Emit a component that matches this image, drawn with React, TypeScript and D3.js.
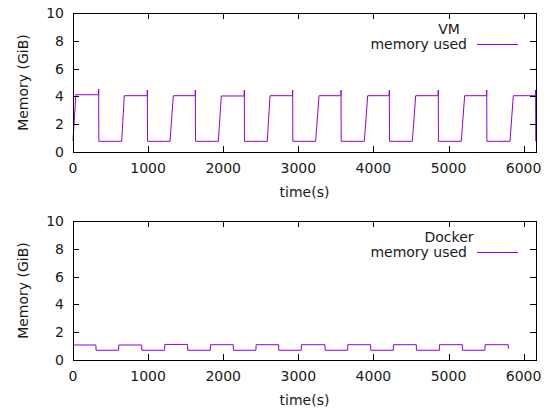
import React from "react";
import * as d3 from "d3";

const xTicks = [0, 1000, 2000, 3000, 4000, 5000, 6000];
const yTicks = [0, 2, 4, 6, 8, 10];

const vmTime = [0, 38, 340, 342, 344, 648, 683, 988, 990, 992, 1292, 1336, 1627, 1629, 1631, 1935, 1975, 2279, 2281, 2283, 2587, 2623, 2923, 2925, 2927, 3231, 3276, 3567, 3569, 3571, 3879, 3924, 4210, 4212, 4214, 4518, 4563, 4862, 4864, 4866, 5170, 5215, 5507, 5509, 5511, 5819, 5863, 6158, 6160, 6162];
const vmMem = [0.8, 4.12, 4.12, 4.53, 0.77, 0.77, 4.05, 4.05, 4.46, 0.77, 0.77, 4.05, 4.05, 4.46, 0.77, 0.77, 4.03, 4.03, 4.46, 0.77, 0.77, 4.05, 4.05, 4.46, 0.77, 0.77, 4.05, 4.05, 4.46, 0.77, 0.77, 4.05, 4.05, 4.46, 0.77, 0.77, 4.05, 4.05, 4.46, 0.77, 0.77, 4.05, 4.05, 4.46, 0.77, 0.77, 4.05, 4.05, 4.46, 0.77];

const dockerTime = [0, 305, 307, 607, 609, 914, 916, 1220, 1222, 1526, 1528, 1828, 1830, 2134, 2136, 2436, 2438, 2738, 2740, 3039, 3041, 3355, 3357, 3657, 3659, 3963, 3965, 4265, 4267, 4571, 4573, 4878, 4880, 5184, 5186, 5485, 5487, 5796, 5797];
const dockerMem = [1.08, 1.08, 0.7, 0.7, 1.08, 1.08, 0.7, 0.7, 1.12, 1.12, 0.7, 0.7, 1.1, 1.1, 0.7, 0.7, 1.1, 1.1, 0.7, 0.7, 1.1, 1.1, 0.7, 0.7, 1.1, 1.1, 0.7, 0.7, 1.1, 1.1, 0.7, 0.7, 1.1, 1.1, 0.7, 0.7, 1.1, 1.1, 0.8];

const FONT = "DejaVu Sans, sans-serif";
const FS = 14;
const COLOR = "#9400d3";
const TEXT = "#1a1a1a";

type PanelProps = { top: number; title: string; time: number[]; mem: number[] };

function Panel({ top, title, time, mem }: PanelProps) {
  const left = 73, right = 536, bottom = top + 139;
  const x = d3.scaleLinear().domain([0, 6165]).range([left, right]);
  const y = d3.scaleLinear().domain([0, 10]).range([bottom, top]);
  const pts = time.map((t, i) => [t, mem[i]] as [number, number]);
  const line = d3.line<[number, number]>().x((d) => x(d[0])).y((d) => y(d[1]));
  const tl = 6;
  return (
    <g>
      <path d={line(pts) || ""} fill="none" stroke={COLOR} strokeWidth={1} />
      {xTicks.map((t) => {
        const xp = Math.round(x(t)) + 0.5;
        return (
          <g key={"x" + t}>
            <line x1={xp} x2={xp} y1={bottom} y2={bottom - tl} stroke="#000" />
            <line x1={xp} x2={xp} y1={top} y2={top + tl} stroke="#000" />
            <text x={x(t)} y={bottom + 20.5} textAnchor="middle" fontFamily={FONT} fontSize={FS} fill={TEXT}>{t}</text>
          </g>
        );
      })}
      {yTicks.map((t) => {
        const yp = Math.round(y(t)) + 0.5;
        return (
          <g key={"y" + t}>
            <line x1={left} x2={left + tl} y1={yp} y2={yp} stroke="#000" />
            <line x1={right} x2={right - tl} y1={yp} y2={yp} stroke="#000" />
            <text x={64} y={y(t)} dy="0.35em" textAnchor="end" fontFamily={FONT} fontSize={FS} fill={TEXT}>{t}</text>
          </g>
        );
      })}
      <rect x={left + 0.5} y={top + 0.5} width={right - left} height={bottom - top} fill="none" stroke="#000" strokeWidth={1} />
      <text transform={`translate(23,${(top + bottom) / 2}) rotate(-90)`} textAnchor="middle" dy="0.35em" fontFamily={FONT} fontSize={FS} fill={TEXT}>Memory (GiB)</text>
      <text x={(left + right) / 2} y={bottom + 45} textAnchor="middle" fontFamily={FONT} fontSize={FS} fill={TEXT}>time(s)</text>
      <text x={449} y={top + 21} textAnchor="middle" fontFamily={FONT} fontSize={FS} fill={TEXT}>{title}</text>
      <text x={467} y={top + 36} textAnchor="end" fontFamily={FONT} fontSize={FS} fill={TEXT}>memory used</text>
      <line x1={477} x2={518} y1={top + 31.5} y2={top + 31.5} stroke={COLOR} strokeWidth={1} />
    </g>
  );
}

export default function App() {
  return (
    <svg width={551} height={412} style={{ position: "absolute", left: 0, top: 0, background: "#fff" }}>
      <rect width={551} height={412} fill="#fff" />
      <Panel top={13} title="VM" time={vmTime} mem={vmMem} />
      <Panel top={221} title="Docker" time={dockerTime} mem={dockerMem} />
    </svg>
  );
}
